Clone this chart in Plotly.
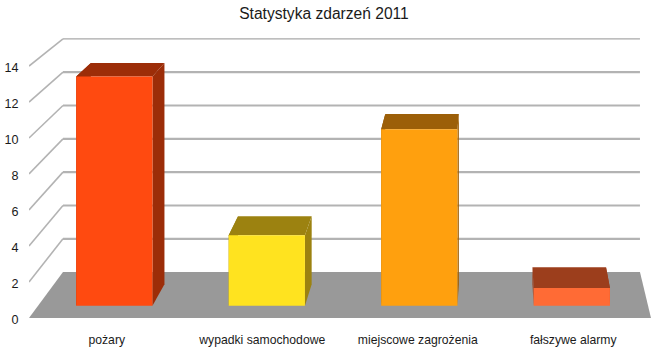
import plotly.graph_objects as go

# --- data ---
categories = ["pożary", "wypadki samochodowe", "miejscowe zagrożenia", "fałszywe alarmy"]
values = [13, 4, 10, 1]
y_ticks = [0, 2, 4, 6, 8, 10, 12, 14]
front_colors = ["#ff4a10", "#ffe31f", "#ffa00e", "#ff6b35"]
shade_colors = ["#9c2d08", "#9c8210", "#9c5f08", "#9c3e1c"]

# --- oblique projection: depth t runs from the front (0) to the back wall (1) ---
W, H = 658, 355
PLOT_L, PLOT_R, PLOT_T, PLOT_B = 29, 651, 30, 317.7
BACK_LEFT, BACK_RIGHT = 0.2186, 3.929   # x-units where the back wall starts / ends
BACK_LIFT = 2.549                       # rise of the floor at the back wall, y-units
BACK_SCALE = 0.9258                     # vertical scale at the back wall
T_FRONT, T_BACK = 0.267, 0.737          # depth of the bars' faces
BAR_HALF = 0.25                         # half bar width in category units


def project(x, value, t):
    """Category-space x, data value and depth -> axis coordinates."""
    left = BACK_LEFT * t
    right = 4 + (BACK_RIGHT - 4) * t
    px = left + (right - left) * x / 4
    py = BACK_LIFT * t + value * (1 + (BACK_SCALE - 1) * t)
    return px, py


def polygon(points):
    pts = [project(*p) for p in points]
    pts.append(pts[0])
    return [p[0] for p in pts], [p[1] for p in pts]


fig = go.Figure()

# walls' grid lines
for v in y_ticks[1:]:
    xs, ys = zip(project(0, v, 0), project(0, v, 1))
    fig.add_trace(go.Scatter(x=xs, y=ys, mode="lines", hoverinfo="skip",
                             line=dict(color="#b3b3b3", width=1.6)))
    xs, ys = zip(project(0, v, 1), project(4, v, 1))
    fig.add_trace(go.Scatter(x=xs, y=ys, mode="lines", hoverinfo="skip",
                             line=dict(color="#a8a8a8" if v == 14 else "#b3b3b3",
                                       width=1.2 if v == 14 else 2.2)))

# floor
xs, ys = polygon([(0, 0, 0), (4, 0, 0), (4, 0, 1), (0, 0, 1)])
fig.add_trace(go.Scatter(x=xs, y=ys, mode="lines", fill="toself", fillcolor="#999999",
                         line=dict(width=0), hoverinfo="skip"))

# bars
for i, (name, val, fc, sc) in enumerate(zip(categories, values, front_colors, shade_colors)):
    c = i + 0.5
    x0, x1 = c - BAR_HALF, c + BAR_HALF
    faces = [
        ([(x0, 0, T_FRONT), (x0, val, T_FRONT), (x0, val, T_BACK), (x0, 0, T_BACK)], sc),
        ([(x1, 0, T_FRONT), (x1, val, T_FRONT), (x1, val, T_BACK), (x1, 0, T_BACK)], sc),
        ([(x0, val, T_FRONT), (x1, val, T_FRONT), (x1, val, T_BACK), (x0, val, T_BACK)], sc),
        ([(x0, 0, T_FRONT), (x1, 0, T_FRONT), (x1, val, T_FRONT), (x0, val, T_FRONT)], fc),
    ]
    for pts, color in faces:
        xs, ys = polygon(pts)
        fig.add_trace(go.Scatter(x=xs, y=ys, mode="lines", fill="toself", fillcolor=color,
                                 line=dict(width=0), name=name,
                                 hovertemplate=f"{name}: {val}<extra></extra>"))

fig.update_layout(
    width=W, height=H, showlegend=False,
    autosize=False,
    paper_bgcolor="white", plot_bgcolor="white",
    margin=dict(l=PLOT_L, r=W - PLOT_R, t=PLOT_T, b=H - PLOT_B, pad=0, autoexpand=False),
    font=dict(family="Liberation Sans, Arial, sans-serif", size=12, color="#1a1a1a"),
    title=dict(text="Statystyka zdarzeń 2011", x=324 / W, xanchor="center", xref="container",
               y=1 - 14 / H, yanchor="middle", yref="container",
               font=dict(size=15.6, color="#1a1a1a")),
    xaxis=dict(range=[0, 4], tickmode="array", tickvals=[i + 0.5 for i in range(len(categories))],
               ticktext=categories, showgrid=False, zeroline=False, showline=False,
               ticks="outside", ticklen=10, tickcolor="rgba(0,0,0,0)",
               tickfont=dict(size=12.2)),
    yaxis=dict(range=[0, (PLOT_B - PLOT_T) / ((PLOT_B - 66) / 14)], tickmode="array",
               tickvals=y_ticks, ticktext=[str(v) for v in y_ticks],
               showgrid=False, zeroline=False, showline=False,
               ticks="outside", ticklen=7, tickcolor="rgba(0,0,0,0)",
               tickfont=dict(size=12.6), ticklabelshift=2),
)

fig.write_html("out.html", config=dict(displayModeBar=False),
               post_script="document.body.style.margin='0';document.documentElement.style.overflow='hidden';")
